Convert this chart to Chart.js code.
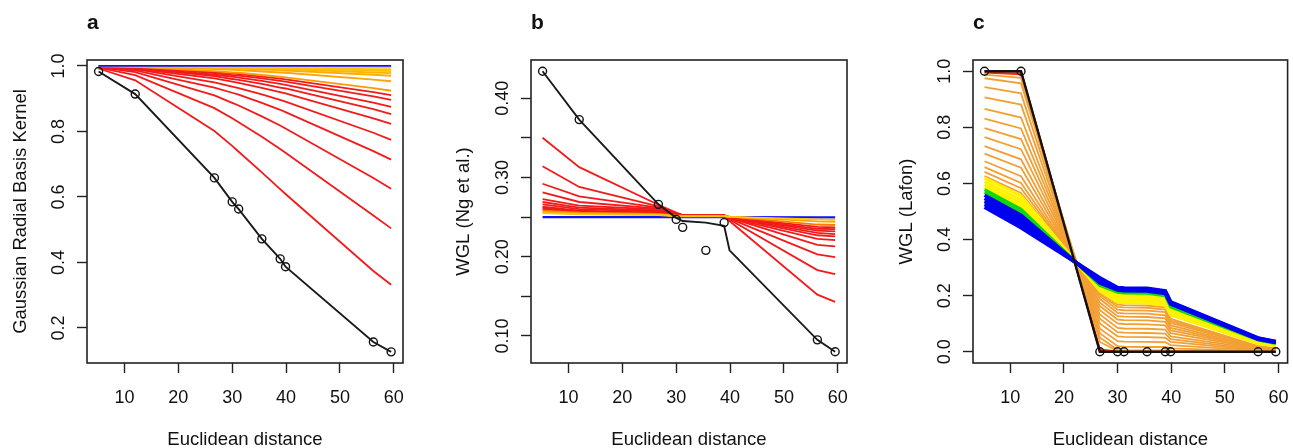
<!DOCTYPE html>
<html>
<head>
<meta charset="utf-8">
<script src="https://cdn.jsdelivr.net/npm/chart.js@4.4.1/dist/chart.umd.min.js"></script>
<style>
  body { margin: 0; background: #fff; width: 1293px; height: 448px; overflow: hidden; position: relative; }
  .panel { position: absolute; top: 0; }
</style>
</head>
<body>
<div class="panel" style="left:0px"><canvas id="chartA" width="430" height="448"></canvas></div>
<div class="panel" style="left:430px"><canvas id="chartB" width="430" height="448"></canvas></div>
<div class="panel" style="left:860px"><canvas id="chartC" width="433" height="448"></canvas></div>
<script>
var FONT = "'Liberation Sans', Arial, sans-serif";

// euclidean distances (x positions shared by all three panels)
var dist = [5.2, 12.0, 26.7, 30.0, 31.2, 35.5, 38.9, 39.9, 56.2, 59.5];
var xTicks = [10, 20, 30, 40, 50, 60];
var xLabels = ['10', '20', '30', '40', '50', '60'];

// ---- panel a : Gaussian radial basis kernel
var aYTicks = [0.2, 0.4, 0.6, 0.8, 1.0];
var aYLabels = ['0.2', '0.4', '0.6', '0.8', '1.0'];
var aBlack = [0.983, 0.914, 0.658, 0.585, 0.563, 0.472, 0.411, 0.387, 0.157, 0.127];
var aRed = [
  [0.992, 0.956, 0.801, 0.756, 0.738, 0.675, 0.624, 0.609, 0.374, 0.332],
  [0.995, 0.972, 0.871, 0.840, 0.828, 0.784, 0.746, 0.735, 0.543, 0.504],
  [0.996, 0.981, 0.910, 0.887, 0.879, 0.846, 0.818, 0.809, 0.658, 0.625],
  [0.997, 0.986, 0.934, 0.918, 0.912, 0.887, 0.866, 0.859, 0.740, 0.714],
  [0.998, 0.990, 0.950, 0.937, 0.932, 0.913, 0.896, 0.891, 0.796, 0.774],
  [0.999, 0.992, 0.962, 0.952, 0.948, 0.933, 0.920, 0.916, 0.840, 0.823],
  [0.999, 0.994, 0.969, 0.960, 0.957, 0.945, 0.934, 0.931, 0.868, 0.853],
  [0.999, 0.995, 0.973, 0.967, 0.964, 0.954, 0.945, 0.942, 0.888, 0.875],
  [0.999, 0.996, 0.978, 0.972, 0.970, 0.962, 0.954, 0.952, 0.907, 0.896],
  [0.999, 0.996, 0.981, 0.977, 0.975, 0.967, 0.961, 0.959, 0.920, 0.911]
];
var aOrange = [
  [0.999, 0.997, 0.984, 0.980, 0.979, 0.972, 0.967, 0.965, 0.932, 0.924],
  [1.000, 0.998, 0.990, 0.988, 0.987, 0.983, 0.980, 0.979, 0.958, 0.953],
  [1.000, 0.999, 0.994, 0.992, 0.992, 0.989, 0.987, 0.986, 0.973, 0.970],
  [1.000, 0.999, 0.996, 0.994, 0.994, 0.992, 0.991, 0.990, 0.980, 0.978],
  [1.000, 0.999, 0.997, 0.996, 0.996, 0.994, 0.993, 0.993, 0.986, 0.984],
  [1.000, 1.000, 0.998, 0.997, 0.997, 0.996, 0.995, 0.995, 0.990, 0.989],
  [1.000, 1.000, 0.999, 0.998, 0.998, 0.998, 0.997, 0.997, 0.995, 0.994]
];
var aOrangeColors = ['#FF9A00', '#FFA500', '#FFAE00', '#FFB400', '#FFBE10', '#FFC400', '#FFCC20'];
var aBlue = [1.0, 1.0, 1.0, 1.0, 1.0, 1.0, 1.0, 1.0, 1.0, 1.0];

// ---- panel b : WGL (Ng et al.)
var bYTicks = [0.10, 0.15, 0.20, 0.25, 0.30, 0.35, 0.40];
var bYLabels = ['0.10', '', '0.20', '', '0.30', '', '0.40'];
var bBlack = [0.434, 0.373, 0.266, 0.249, 0.245, 0.243, 0.239, 0.208, 0.095, 0.080];
var bPtsX = [5.2, 12.0, 26.7, 30.0, 31.2, 35.5, 38.9, 56.2, 59.5];
var bPtsY = [0.434, 0.373, 0.266, 0.247, 0.237, 0.208, 0.243, 0.095, 0.080];
var bRed = [
  [0.350, 0.313, 0.2655, 0.2555, 0.2525, 0.2525, 0.2522, 0.245, 0.152, 0.143],
  [0.314, 0.288, 0.2635, 0.2550, 0.2525, 0.2525, 0.2522, 0.247, 0.183, 0.178],
  [0.292, 0.276, 0.2620, 0.2545, 0.2525, 0.2525, 0.2522, 0.248, 0.203, 0.1995],
  [0.281, 0.269, 0.2605, 0.2540, 0.2525, 0.2525, 0.2522, 0.249, 0.215, 0.213],
  [0.2725, 0.2645, 0.2595, 0.2535, 0.2525, 0.2525, 0.2522, 0.249, 0.2225, 0.221],
  [0.269, 0.262, 0.258, 0.253, 0.2525, 0.2525, 0.2522, 0.2495, 0.227, 0.2255],
  [0.266, 0.260, 0.257, 0.253, 0.2525, 0.2525, 0.2522, 0.2495, 0.230, 0.2285],
  [0.263, 0.258, 0.2555, 0.2528, 0.2522, 0.2522, 0.252, 0.250, 0.2328, 0.232],
  [0.2615, 0.257, 0.255, 0.2525, 0.252, 0.252, 0.252, 0.250, 0.2352, 0.2347],
  [0.260, 0.256, 0.2545, 0.2522, 0.252, 0.252, 0.2518, 0.250, 0.2375, 0.237]
];
var bOrange = [
  [0.258, 0.2555, 0.254, 0.252, 0.2515, 0.2515, 0.2515, 0.2505, 0.2405, 0.240],
  [0.2565, 0.2545, 0.253, 0.2515, 0.2512, 0.2512, 0.2512, 0.2505, 0.2445, 0.244],
  [0.255, 0.2535, 0.2525, 0.251, 0.251, 0.251, 0.251, 0.2502, 0.247, 0.2465]
];
var bOrangeColors = ['#FF7A00', '#FFA500', '#FFC800'];
var bBlue = [0.250, 0.250, 0.250, 0.250, 0.250, 0.250, 0.250, 0.250, 0.2495, 0.2495];

// ---- panel c : WGL (Lafon)
var cYTicks = [0.0, 0.2, 0.4, 0.6, 0.8, 1.0];
var cYLabels = ['0.0', '0.2', '0.4', '0.6', '0.8', '1.0'];
var cBlack = [1.0, 1.0, 0.0, 0.0, 0.0, 0.0, 0.0, 0.0, 0.0, 0.0];
var cRed = [
  [1.000, 0.999, 0.002, 0.000, 0.000, 0.000, 0.000, 0.000, 0.000, 0.000],
  [0.996, 0.990, 0.008, 0.001, 0.001, 0.001, 0.001, 0.000, 0.000, 0.000]
];
var cOrange = [
  [0.988, 0.976, 0.035, 0.003, 0.002, 0.002, 0.002, 0.001, 0.000, 0.000],
  [0.975, 0.957, 0.051, 0.007, 0.005, 0.005, 0.005, 0.004, 0.001, 0.000],
  [0.943, 0.921, 0.066, 0.020, 0.018, 0.017, 0.017, 0.012, 0.002, 0.001],
  [0.907, 0.881, 0.082, 0.038, 0.036, 0.035, 0.034, 0.024, 0.004, 0.003],
  [0.866, 0.835, 0.101, 0.055, 0.053, 0.052, 0.050, 0.035, 0.006, 0.004],
  [0.831, 0.796, 0.118, 0.070, 0.068, 0.067, 0.065, 0.045, 0.008, 0.005],
  [0.797, 0.758, 0.133, 0.085, 0.083, 0.082, 0.079, 0.055, 0.010, 0.006],
  [0.765, 0.722, 0.148, 0.101, 0.099, 0.098, 0.094, 0.066, 0.012, 0.007],
  [0.733, 0.686, 0.163, 0.115, 0.113, 0.112, 0.107, 0.076, 0.014, 0.008],
  [0.706, 0.656, 0.175, 0.127, 0.125, 0.124, 0.119, 0.085, 0.015, 0.009],
  [0.679, 0.626, 0.188, 0.139, 0.137, 0.136, 0.130, 0.094, 0.016, 0.010],
  [0.658, 0.602, 0.198, 0.150, 0.148, 0.147, 0.141, 0.103, 0.018, 0.010],
  [0.641, 0.583, 0.206, 0.160, 0.158, 0.157, 0.150, 0.110, 0.019, 0.011],
  [0.626, 0.566, 0.213, 0.168, 0.166, 0.165, 0.158, 0.117, 0.020, 0.012]
];
var cYellow = [
  [0.620, 0.555, 0.217, 0.177, 0.175, 0.174, 0.166, 0.131, 0.030, 0.021],
  [0.607, 0.541, 0.223, 0.187, 0.185, 0.184, 0.176, 0.139, 0.033, 0.024],
  [0.595, 0.528, 0.228, 0.197, 0.195, 0.194, 0.185, 0.147, 0.036, 0.026],
  [0.585, 0.517, 0.233, 0.205, 0.203, 0.202, 0.193, 0.153, 0.039, 0.028]
];
var cGreen = [
  [0.578, 0.508, 0.237, 0.212, 0.210, 0.209, 0.200, 0.160, 0.042, 0.030],
  [0.568, 0.497, 0.241, 0.217, 0.215, 0.214, 0.205, 0.165, 0.044, 0.032]
];
var cBlue = [
  [0.558, 0.487, 0.245, 0.220, 0.218, 0.217, 0.208, 0.170, 0.045, 0.033],
  [0.547, 0.475, 0.250, 0.223, 0.221, 0.220, 0.211, 0.172, 0.046, 0.034],
  [0.536, 0.464, 0.255, 0.225, 0.223, 0.222, 0.213, 0.174, 0.047, 0.035],
  [0.525, 0.452, 0.260, 0.227, 0.225, 0.224, 0.215, 0.176, 0.048, 0.036],
  [0.515, 0.442, 0.264, 0.229, 0.227, 0.226, 0.217, 0.178, 0.049, 0.037]
];

function pts(xs, ys) {
  return xs.map(function(x, i) { return { x: x, y: ys[i] }; });
}
function lineSet(ys, color, width) {
  return { data: pts(dist, ys), borderColor: color, borderWidth: width, pointRadius: 0, fill: false, tension: 0 };
}
function circleSet(xs, ys) {
  return { data: pts(xs, ys), showLine: false, pointRadius: 4, pointBorderWidth: 1.4,
           pointBorderColor: '#111', pointBackgroundColor: 'rgba(0,0,0,0)', borderColor: '#111' };
}

// box round the plot region + panel letter
var panelDecor = {
  id: 'panelDecor',
  afterDraw: function(chart, args, opts) {
    var a = chart.chartArea, ctx = chart.ctx;
    ctx.save();
    ctx.strokeStyle = '#222';
    ctx.lineWidth = 1.6;
    ctx.strokeRect(a.left, a.top, a.right - a.left, a.bottom - a.top);
    ctx.fillStyle = '#111';
    ctx.font = 'bold 21px ' + FONT;
    ctx.textBaseline = 'alphabetic';
    ctx.fillText(opts.letter, a.left, 29);
    ctx.restore();
  }
};

function drawPanel(id, p) {
  // p.sets is in drawing order (first = bottom); chart.js paints index 0 last
  var sets = p.sets.slice().reverse();
  var tickGrid = { display: true, drawOnChartArea: false, drawTicks: true, tickLength: 10, tickWidth: 1.4, tickColor: '#222' };
  new Chart(document.getElementById(id), {
    type: 'line',
    data: { datasets: sets },
    options: {
      responsive: false,
      animation: false,
      devicePixelRatio: 1,
      events: [],
      layout: { padding: { left: 0, right: p.padRight, top: 60, bottom: 0 } },
      plugins: { legend: { display: false }, tooltip: { enabled: false }, panelDecor: { letter: p.letter } },
      scales: {
        x: {
          type: 'linear', min: 3.05, max: 61.7,
          afterBuildTicks: function(s) { s.ticks = xTicks.map(function(v) { return { value: v }; }); },
          afterFit: function(s) { s.height = 85; s.paddingLeft = 0; s.paddingRight = 0; },
          grid: tickGrid,
          border: { display: false },
          ticks: { padding: 14, color: '#111', autoSkip: false, maxRotation: 0,
                   font: { family: FONT, size: 18 },
                   callback: function(v, i) { return xLabels[i]; } },
          title: { display: true, text: 'Euclidean distance', color: '#111',
                   font: { family: FONT, size: 18.5 }, padding: { top: 0, bottom: -3 } }
        },
        y: {
          type: 'linear', min: p.yMin, max: p.yMax,
          afterBuildTicks: function(s) { s.ticks = p.yTicks.map(function(v) { return { value: v }; }); },
          afterFit: function(s) { s.width = p.areaLeft; s.paddingTop = 0; s.paddingBottom = 0; },
          grid: tickGrid,
          border: { display: false },
          ticks: { padding: p.yTickPad, color: '#111', autoSkip: false, minRotation: 90, maxRotation: 90,
                   crossAlign: 'center', font: { family: FONT, size: 18 },
                   callback: function(v, i) { return p.yLabels[i]; } },
          title: { display: true, text: p.yTitle, color: '#111',
                   font: { family: FONT, size: 18.5 }, padding: { top: p.yTitlePad, bottom: 0 } }
        }
      }
    },
    plugins: [panelDecor]
  });
}

// panel a
var aSets = [];
aRed.forEach(function(ys) { aSets.push(lineSet(ys, '#F21A1A', 1.8)); });
aOrange.forEach(function(ys, i) { aSets.push(lineSet(ys, aOrangeColors[i], 1.9)); });
aSets.push(lineSet(aBlue, '#1010FF', 1.8));
aSets.push(lineSet(aBlack, '#1a1a1a', 1.9));
aSets.push(circleSet(dist, aBlack));
drawPanel('chartA', { letter: 'a', yTitle: 'Gaussian Radial Basis Kernel', yTitlePad: 10,
  yMin: 0.093, yMax: 1.018, yTicks: aYTicks, yLabels: aYLabels, yTickPad: 5,
  areaLeft: 87, padRight: 27, sets: aSets });

// panel b
var bSets = [];
bSets.push(lineSet(bBlue, '#1010FF', 2.2));
bRed.forEach(function(ys) { bSets.push(lineSet(ys, '#F21A1A', 1.8)); });
bOrange.forEach(function(ys, i) { bSets.push(lineSet(ys, bOrangeColors[i], 1.9)); });
bSets.push(lineSet(bBlack, '#1a1a1a', 1.9));
bSets.push(circleSet(bPtsX, bPtsY));
drawPanel('chartB', { letter: 'b', yTitle: 'WGL (Ng et al.)', yTitlePad: 22.5,
  yMin: 0.0658, yMax: 0.4482, yTicks: bYTicks, yLabels: bYLabels, yTickPad: 0,
  areaLeft: 101, padRight: 13, sets: bSets });

// panel c
var cSets = [];
cRed.forEach(function(ys, i) { cSets.push(lineSet(ys, i ? '#FF2A00' : '#C80000', 2.2)); });
cOrange.forEach(function(ys) { cSets.push(lineSet(ys, '#F2A035', 1.8)); });
cYellow.forEach(function(ys) { cSets.push(lineSet(ys, '#FFF200', 3.2)); });
cGreen.forEach(function(ys) { cSets.push(lineSet(ys, '#10D810', 3.2)); });
cBlue.forEach(function(ys) { cSets.push(lineSet(ys, '#0000F0', 3.6)); });
cSets.push(lineSet(cBlack, '#111', 2.4));
cSets.push(circleSet(dist, cBlack));
drawPanel('chartC', { letter: 'c', yTitle: 'WGL (Lafon)', yTitlePad: 35.5,
  yMin: -0.04, yMax: 1.04, yTicks: cYTicks, yLabels: cYLabels, yTickPad: 5,
  areaLeft: 113, padRight: 4, sets: cSets });
</script>
</body>
</html>
